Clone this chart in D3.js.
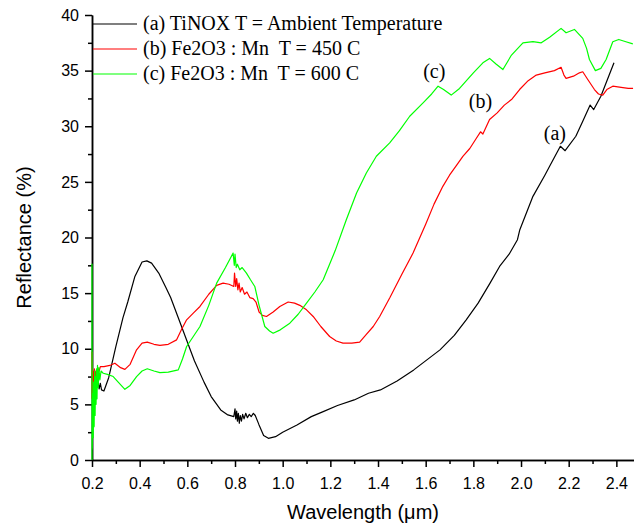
<!DOCTYPE html>
<html>
<head>
<meta charset="utf-8">
<script src="https://cdn.jsdelivr.net/npm/d3@7"></script>
<style>
    body { margin: 0; background: #fff; }
    svg { display: block; }
</style>
</head>
<body>
<svg id="chart" width="634" height="529"></svg>
<script>
// (a) TiNOX, ambient temperature  [wavelength um, reflectance %]
const tinox = [
    [0.225, 7.0], [0.23, 6.4], [0.235, 6.9], [0.24, 6.3], [0.25, 6.2], [0.27, 7.4], [0.3, 10.2],
    [0.33, 12.8], [0.35, 14.2], [0.38, 16.5], [0.41, 17.8], [0.43, 17.9], [0.45, 17.7],
    [0.48, 16.8], [0.51, 15.5], [0.53, 14.6], [0.56, 12.9], [0.6, 10.6], [0.63, 8.9],
    [0.67, 7.0], [0.7, 5.7], [0.74, 4.5], [0.77, 4.05], [0.795, 3.9],
    [0.8, 4.6], [0.803, 3.7], [0.807, 4.4], [0.81, 3.5], [0.814, 4.2], [0.818, 3.3],
    [0.822, 4.0], [0.827, 3.5], [0.832, 4.1], [0.838, 3.7], [0.845, 4.2], [0.852, 3.8],
    [0.86, 4.1], [0.868, 3.9], [0.877, 4.2], [0.885, 4.0], [0.9, 3.2], [0.92, 2.2],
    [0.94, 1.95], [0.97, 2.1], [1.0, 2.5], [1.06, 3.15], [1.12, 3.9], [1.17, 4.35],
    [1.23, 4.9], [1.3, 5.4], [1.36, 6.0], [1.41, 6.3], [1.48, 7.1], [1.55, 8.1],
    [1.66, 9.9], [1.72, 11.2], [1.77, 12.6], [1.82, 14.1], [1.87, 15.9], [1.91, 17.4],
    [1.95, 18.5], [1.985, 19.8], [1.995, 20.7], [2.05, 23.7], [2.1, 25.6], [2.12, 26.4],
    [2.165, 28.2], [2.185, 27.8], [2.23, 29.1], [2.26, 30.5], [2.29, 31.9], [2.305, 31.5],
    [2.335, 32.7], [2.39, 35.7]
]

// (b) Fe2O3 : Mn, 450 C
const fe450 = [
    [0.2, 5.5], [0.2, 9.7], [0.202, 6.0], [0.205, 8.0], [0.208, 6.5], [0.21, 8.2],
    [0.213, 7.0], [0.216, 8.0], [0.22, 7.4], [0.225, 8.2], [0.23, 8.0], [0.235, 8.4],
    [0.25, 8.4], [0.275, 8.5], [0.296, 8.7], [0.32, 8.3], [0.338, 8.15], [0.36, 8.6],
    [0.387, 9.9], [0.41, 10.5], [0.432, 10.6], [0.46, 10.4], [0.485, 10.3], [0.52, 10.4],
    [0.555, 10.8], [0.575, 11.7], [0.597, 12.6], [0.625, 13.2], [0.653, 13.8], [0.69, 14.9],
    [0.723, 15.7], [0.75, 15.9], [0.775, 15.8], [0.795, 15.6], [0.798, 16.8], [0.803, 15.6],
    [0.807, 16.3], [0.812, 15.3], [0.817, 15.9], [0.822, 15.1], [0.83, 15.5], [0.84, 14.9],
    [0.85, 15.1], [0.862, 14.6], [0.876, 14.5], [0.888, 14.2], [0.901, 13.3], [0.915, 13.0],
    [0.932, 12.9], [0.96, 13.3], [0.988, 13.8], [1.023, 14.2], [1.05, 14.1], [1.072, 13.9],
    [1.1, 13.5], [1.128, 12.9], [1.16, 12.0], [1.197, 11.1], [1.225, 10.7], [1.253, 10.5],
    [1.29, 10.5], [1.323, 10.6], [1.351, 11.3], [1.38, 12.0], [1.407, 12.9], [1.45, 14.6],
    [1.5, 16.7], [1.547, 18.6], [1.6, 21.2], [1.635, 23.0], [1.672, 24.6], [1.7, 25.6],
    [1.73, 26.5], [1.756, 27.3], [1.785, 28.0], [1.812, 28.9], [1.83, 29.5], [1.84, 29.3],
    [1.868, 30.6], [1.9, 31.2], [1.93, 31.9], [1.96, 32.4], [1.994, 33.3], [2.03, 34.1],
    [2.064, 34.6], [2.1, 34.8], [2.14, 35.0], [2.168, 35.3], [2.18, 34.6], [2.189, 34.3],
    [2.22, 34.5], [2.245, 34.8], [2.259, 34.9], [2.28, 34.2], [2.308, 33.3], [2.325, 32.9],
    [2.343, 32.8], [2.36, 33.3], [2.385, 33.6], [2.42, 33.5], [2.45, 33.4], [2.47, 33.4]
]

// (c) Fe2O3 : Mn, 600 C
const fe600 = [
    [0.2, 0.0], [0.2, 17.6], [0.201, 1.0], [0.203, 6.0], [0.205, 2.0], [0.207, 7.0],
    [0.209, 3.0], [0.211, 8.0], [0.213, 4.0], [0.215, 7.5], [0.217, 5.0], [0.219, 8.2],
    [0.221, 5.5], [0.223, 8.5], [0.226, 6.5], [0.229, 8.3], [0.233, 7.2], [0.238, 8.0],
    [0.247, 7.8], [0.265, 7.7], [0.289, 7.5], [0.31, 7.0], [0.338, 6.35], [0.36, 6.7],
    [0.387, 7.5], [0.41, 8.0], [0.432, 8.2], [0.46, 8.0], [0.485, 7.85], [0.52, 7.9],
    [0.562, 8.1], [0.58, 9.1], [0.597, 10.2], [0.625, 11.1], [0.653, 12.0], [0.69, 13.9],
    [0.723, 15.9], [0.76, 17.3], [0.792, 18.6], [0.797, 17.5], [0.8, 18.5], [0.805, 17.3],
    [0.81, 17.6], [0.82, 17.1], [0.83, 17.3], [0.848, 16.8], [0.865, 16.2], [0.883, 15.6],
    [0.901, 13.9], [0.925, 12.0], [0.945, 11.6], [0.96, 11.4], [0.99, 11.7], [1.03, 12.3],
    [1.065, 13.1], [1.1, 14.1], [1.135, 15.1], [1.17, 16.2], [1.22, 18.8], [1.267, 21.6],
    [1.31, 24.0], [1.351, 25.8], [1.393, 27.3], [1.449, 28.5], [1.49, 29.6], [1.533, 30.9],
    [1.589, 32.1], [1.625, 32.9], [1.652, 33.6], [1.675, 33.3], [1.707, 32.8], [1.742, 33.4],
    [1.8, 34.8], [1.84, 35.7], [1.868, 36.1], [1.895, 35.6], [1.924, 35.1], [1.96, 36.4],
    [2.008, 37.5], [2.05, 37.6], [2.085, 37.5], [2.12, 38.0], [2.168, 38.8], [2.189, 38.4],
    [2.224, 38.7], [2.259, 37.9], [2.275, 37.0], [2.287, 36.0], [2.312, 35.0], [2.335, 35.2],
    [2.357, 36.0], [2.385, 37.6], [2.41, 37.8], [2.44, 37.6], [2.469, 37.4]
]

const seriesNames = [
    "(a) TiNOX T = Ambient Temperature",
    "(b) Fe2O3 : Mn  T = 450 C",
    "(c) Fe2O3 : Mn  T = 600 C"
]
const seriesColors = ["#000000", "#ff0000", "#00ff00"]
const curveTags = ["(a)", "(b)", "(c)"]
const curveTagAt = [[2.142, 28.8], [1.83, 31.6], [1.636, 34.3]]

const xMajor = [0.2, 0.4, 0.6, 0.8, 1.0, 1.2, 1.4, 1.6, 1.8, 2.0, 2.2, 2.4]
const xMinor = [0.3, 0.5, 0.7, 0.9, 1.1, 1.3, 1.5, 1.7, 1.9, 2.1, 2.3]
const yMajor = [0, 5, 10, 15, 20, 25, 30, 35, 40]
const yMinor = [2.5, 7.5, 12.5, 17.5, 22.5, 27.5, 32.5, 37.5]

const svg = d3.select("#chart"),
    plotLeft = 92,
    plotRight = 634,
    plotTop = 15,
    plotBottom = 460,
    sansFont = "'Liberation Sans', Arial, sans-serif",
    serifFont = "'Liberation Serif', 'Times New Roman', serif"

const x = d3.scaleLinear().domain([0.2, 2.474]).range([plotLeft, plotRight])
const y = d3.scaleLinear().domain([0, 40]).range([plotBottom, plotTop])

const line = d3.line()
    .x(d => x(d[0]))
    .y(d => y(d[1]))

// axes
const xAxis = svg.append("g").attr("transform", `translate(0, ${plotBottom})`)
xAxis.call(d3.axisBottom(x).tickValues(xMinor).tickSize(4).tickSizeOuter(0).tickFormat(""))
xAxis.append("g").call(d3.axisBottom(x).tickValues(xMajor).tickSize(7).tickSizeOuter(0).tickPadding(11).tickFormat(d3.format(".1f")))

const yAxis = svg.append("g").attr("transform", `translate(${plotLeft}, 0)`)
yAxis.call(d3.axisLeft(y).tickValues(yMinor).tickSize(4).tickSizeOuter(0).tickFormat(""))
yAxis.append("g").call(d3.axisLeft(y).tickValues(yMajor).tickSize(7).tickSizeOuter(0).tickPadding(6))

svg.selectAll(".domain, .tick line")
    .style("stroke", "#000")
    .style("stroke-width", 1.5)
svg.selectAll(".tick text")
    .style("font-family", sansFont)
    .style("font-size", "16px")
    .style("fill", "#000")

// curves, drawn over the axes like the original
const seriesData = [tinox, fe450, fe600]
svg.append("g")
    .selectAll("path")
    .data(seriesData)
    .join("path")
    .attr("d", line)
    .style("fill", "none")
    .style("stroke", (d, i) => seriesColors[i])
    .style("stroke-width", 1.2)
    .style("stroke-linejoin", "round")

// axis titles
svg.append("text")
    .text("Wavelength (\u03bcm)")
    .attr("x", (plotLeft + plotRight) / 2)
    .attr("y", 519)
    .attr("text-anchor", "middle")
    .style("font-family", sansFont)
    .style("font-size", "20px")

svg.append("text")
    .text("Reflectance (%)")
    .attr("transform", `translate(31, ${(plotTop + plotBottom) / 2}) rotate(-90)`)
    .attr("text-anchor", "middle")
    .style("font-family", sansFont)
    .style("font-size", "20px")

// legend
const legend = svg.append("g")
    .selectAll("g")
    .data(seriesNames)
    .join("g")
    .attr("transform", (d, i) => `translate(0, ${24 + i * 25})`)

legend.append("line")
    .attr("x1", 93)
    .attr("x2", 137)
    .style("stroke", (d, i) => seriesColors[i])
    .style("stroke-width", 1.2)

legend.append("text")
    .text(d => d)
    .attr("x", 143)
    .attr("y", 6)
    .attr("xml:space", "preserve")
    .style("font-family", serifFont)
    .style("font-size", "20px")
    .style("white-space", "pre")

// curve tags
svg.append("g")
    .selectAll("text")
    .data(curveTags)
    .join("text")
    .text(d => d)
    .attr("x", (d, i) => x(curveTagAt[i][0]))
    .attr("y", (d, i) => y(curveTagAt[i][1]))
    .attr("text-anchor", "middle")
    .style("font-family", serifFont)
    .style("font-size", "20px")
</script>
</body>
</html>
